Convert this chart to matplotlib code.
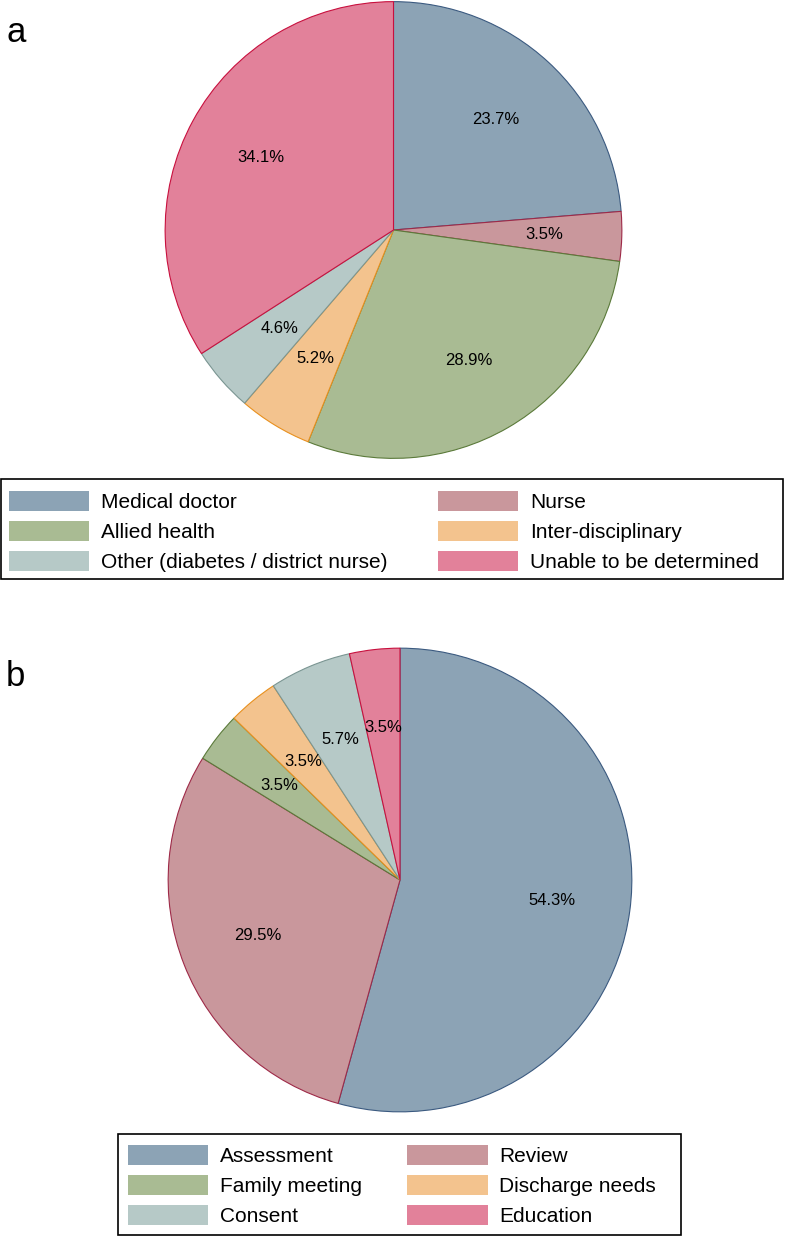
#!/usr/bin/env python3

import matplotlib
matplotlib.use("Agg")
import matplotlib.pyplot as plt
from matplotlib.patches import Patch, Rectangle

plt.rcParams["font.family"] = ["Liberation Sans", "DejaVu Sans"]

# panel a: who performed the activity
roles = ["Medical doctor", "Nurse", "Allied health", "Inter-disciplinary",
         "Other (diabetes / district nurse)", "Unable to be determined"]
role_pct = [23.7, 3.5, 28.9, 5.2, 4.6, 34.1]

# panel b: type of activity
activities = ["Assessment", "Review", "Family meeting", "Discharge needs",
              "Consent", "Education"]
activity_pct = [54.3, 29.5, 3.5, 3.5, 5.7, 3.5]

fills = ["#8ca3b5", "#c9979c", "#a9bb93", "#f3c38e", "#b6c9c7", "#e2819a"]
edges = ["#3b5a80", "#9e2a48", "#5b7a3a", "#e8901e", "#7a9592", "#c8103e"]

W, H = 788, 1236
fig = plt.figure(figsize=(W / 100, H / 100), dpi=100)


def pie_axes(cx, cy, r):
    return fig.add_axes([(cx - r) / W, 1 - (cy + r) / H, 2 * r / W, 2 * r / H])


def draw_pie(ax, values):
    wedges, _, autotexts = ax.pie(values, colors=fills, startangle=90,
                                  counterclock=False, autopct="%.1f%%",
                                  pctdistance=0.66,
                                  textprops={"fontsize": 12, "color": "black"})
    for w, ec in zip(wedges, edges):
        w.set_edgecolor(ec)
        w.set_linewidth(0.8)
    ax.set_xlim(-1.005, 1.005)
    ax.set_ylim(-1.005, 1.005)
    return wedges


def draw_legend(labels, box, x, y, colspace):
    # box = (left, top, right, bottom) in pixels, drawn as its own frame
    l, t, r, b = box
    fig.patches.append(Rectangle((l / W, 1 - b / H), (r - l) / W, (b - t) / H,
                                 transform=fig.transFigure, fill=False,
                                 edgecolor="black", linewidth=1.2))
    handles = [Patch(facecolor=c, edgecolor="none") for c in fills]
    order = [0, 2, 4, 1, 3, 5]
    leg = fig.legend([handles[i] for i in order], [labels[i] for i in order],
                     loc="upper left", bbox_to_anchor=(x / W, 1 - y / H),
                     bbox_transform=fig.transFigure, ncol=2, fontsize=15,
                     frameon=False, handlelength=3.86, handleheight=1.1,
                     handletextpad=0.57, labelspacing=0.42, borderpad=0,
                     borderaxespad=0, columnspacing=colspace)
    return leg


ax_a = pie_axes(393.5, 230, 229.5)
draw_pie(ax_a, role_pct)
draw_legend(roles, (0.5, 479, 783, 579), 9, 491, 2.4)

ax_b = pie_axes(400, 880, 233)
draw_pie(ax_b, activity_pct)
draw_legend(activities, (118, 1134, 681, 1234.5), 128, 1145, 2.15)

fig.text(6 / W, 1 - 42 / H, "a", fontsize=25, va="baseline", ha="left")
fig.text(6 / W, 1 - 686 / H, "b", fontsize=25, va="baseline", ha="left")

fig.savefig("out.png", dpi=100)
